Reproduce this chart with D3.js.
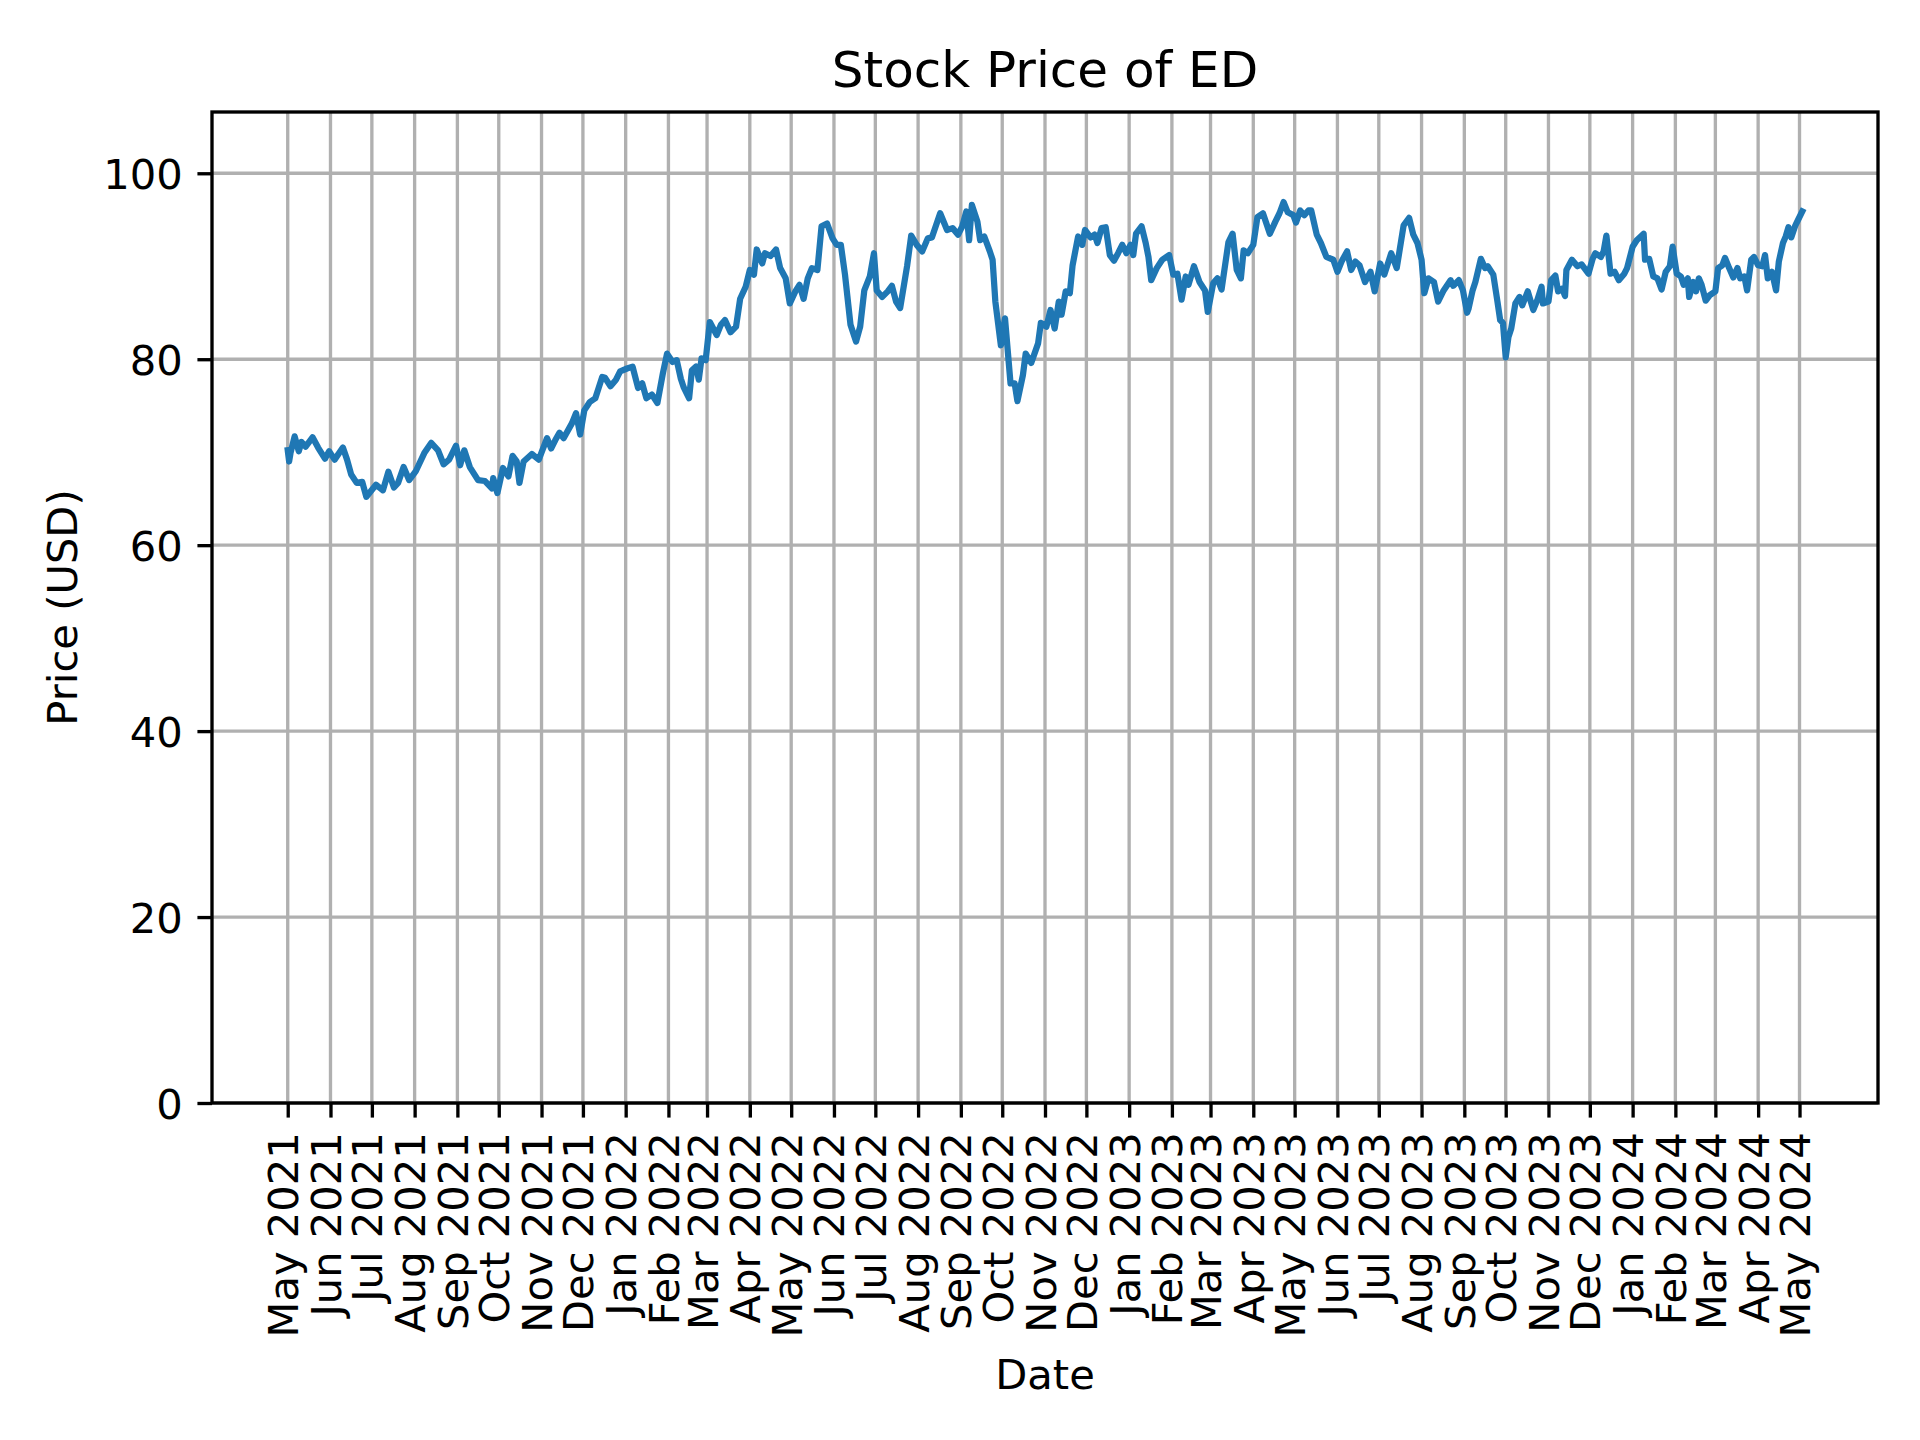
<!DOCTYPE html>
<html lang="en">
<head>
<meta charset="UTF-8">
<title>Stock Price of ED</title>
<script src="https://d3js.org/d3.v7.min.js"></script>
<style>
  body { margin: 0; background: #fff; }
  svg text { font-family: "DejaVu Sans", sans-serif; fill: #000; }
</style>
</head>
<body>
<div id="chart"></div>
<script>
// days counted from startDate, closing price in USD
const startDate = "2021-05-01";
const dayOffsets = [
  0, 1, 2, 5, 8, 10, 13, 18, 22, 27, 30, 34, 40, 43, 46, 50, 54, 57, 64, 69,
  73, 77, 80, 84, 88, 93, 99, 104, 109, 113, 117, 122, 125, 128, 132, 138, 143, 148, 149, 152,
  156, 160, 163, 166, 168, 171, 177, 182, 188, 191, 194, 197, 200, 206, 209, 212, 215, 219, 223, 228,
  230, 234, 238, 241, 246, 250, 254, 257, 260, 264, 268, 272,
  275, 279, 282, 285, 287, 291, 293, 296, 298, 300, 303, 306, 311, 314, 317, 321, 325, 328, 332, 335,
  338, 340, 344, 346, 350, 354, 357, 361, 364, 368, 371, 374, 377, 380, 384, 387, 391, 395, 398, 401,
  404, 408, 412, 415, 418, 422, 425, 427, 431, 435, 438, 441, 444, 449, 452, 456, 460, 464, 467, 473,
  478, 482, 486, 489, 492, 494, 496, 500, 502, 505, 509, 511, 513, 517, 520, 524, 527, 529, 533, 535,
  539, 544, 546, 550, 553,
  556, 559, 561, 564, 567, 569, 573, 576, 578, 582, 585, 587, 590, 593, 596, 599, 602, 605, 608, 611,
  613, 615, 619, 622, 624, 626, 630, 634, 639, 642, 645, 648, 651, 653, 657, 661, 665, 667, 671, 674,
  677, 682, 685, 688, 691, 693, 696, 700, 703, 707, 712, 716, 719, 722, 725, 729, 731, 734, 737, 740,
  742, 746, 749, 753, 758, 761, 764, 768, 771, 774, 777, 781, 785, 788, 792, 795, 800, 804, 809, 813,
  816, 819, 822, 824, 827, 831, 834, 838, 843,
  845, 849, 852, 855, 856, 859, 861, 865, 868, 870, 874, 877, 879, 881, 883, 885, 887, 890, 893, 895,
  899, 903, 906, 909, 910, 914, 916, 919, 921, 924, 926, 927, 931, 935, 938, 943, 946, 948, 952, 954,
  956, 959, 962, 965, 969, 971, 975, 978, 983, 984, 987, 990, 993, 996, 999, 1002, 1004, 1007, 1010, 1012,
  1015, 1016, 1019, 1021, 1023, 1025, 1028, 1031, 1035, 1037, 1040, 1042, 1045, 1048, 1051, 1053, 1056, 1058, 1061, 1063,
  1066, 1069, 1071, 1073, 1076, 1079, 1081, 1084, 1086, 1088, 1090, 1093, 1095, 1098
];
const prices = [
  70.2, 69.0, 69.9, 71.7, 70.1, 71.1, 70.6, 71.6, 70.5, 69.3, 70.1, 69.2, 70.5, 69.2, 67.6, 66.7, 66.8, 65.2, 66.5, 65.9,
  67.9, 66.2, 66.7, 68.4, 67.0, 68.0, 69.9, 71.0, 70.2, 68.7, 69.2, 70.7, 68.6, 70.2, 68.4, 67.0, 66.9, 66.1, 67.2, 65.6,
  68.3, 67.4, 69.6, 69.0, 66.7, 69.0, 69.8, 69.2, 71.5, 70.4, 71.3, 72.1, 71.5, 73.1, 74.2, 71.9, 74.5, 75.4, 75.8, 78.1,
  78.0, 77.1, 77.8, 78.7, 79.0, 79.2, 76.9, 77.4, 75.8, 76.2, 75.3, 78.5,
  80.6, 79.7, 79.9, 77.9, 77.0, 75.8, 78.8, 79.2, 77.8, 80.1, 79.9, 84.0, 82.6, 83.7, 84.2, 82.9, 83.5, 86.5, 87.8, 89.6,
  89.1, 91.8, 90.3, 91.4, 91.1, 91.8, 89.8, 88.7, 86.0, 87.3, 88.0, 86.5, 88.7, 89.8, 89.6, 94.3, 94.6, 93.0, 92.3, 92.3,
  89.1, 83.7, 81.9, 83.5, 87.4, 88.9, 91.4, 87.4, 86.7, 87.3, 87.9, 86.2, 85.5, 90.0, 93.3, 92.3, 91.6, 93.0, 93.1, 95.7,
  93.9, 94.1, 93.4, 94.3, 95.9, 92.8, 96.6, 94.8, 92.8, 93.2, 91.6, 90.7, 86.2, 81.5, 84.4, 77.4, 77.4, 75.5, 78.3, 80.6,
  79.6, 81.7, 83.9, 83.5, 85.3,
  83.3, 86.2, 84.8, 87.3, 87.1, 90.1, 93.2, 92.3, 93.9, 93.1, 93.4, 92.5, 94.1, 94.2, 91.2, 90.6, 91.4, 92.3, 91.4, 92.3,
  91.2, 93.5, 94.3, 92.5, 91.0, 88.5, 89.8, 90.7, 91.2, 89.1, 89.2, 86.4, 88.9, 88.0, 90.0, 88.3, 87.4, 85.1, 88.2, 88.7,
  87.5, 92.6, 93.5, 89.6, 88.7, 91.7, 91.4, 92.3, 95.3, 95.7, 93.5, 94.8, 95.7, 96.9, 95.8, 95.5, 94.7, 96.0, 95.5, 96.0,
  96.0, 93.4, 92.5, 91.0, 90.7, 89.4, 90.5, 91.6, 89.6, 90.5, 90.1, 88.3, 89.4, 87.3, 90.3, 89.1, 91.4, 89.8, 94.4, 95.2,
  93.4, 92.5, 90.7, 87.1, 88.7, 88.3, 86.2, 87.4, 88.5,
  87.9, 88.5, 87.4, 85.0, 85.4, 87.4, 88.3, 90.8, 89.8, 90.0, 89.1, 86.2, 84.2, 83.9, 80.2, 82.4, 83.3, 86.0, 86.7, 85.8,
  87.3, 85.3, 86.4, 87.8, 86.0, 86.2, 88.5, 89.0, 87.3, 87.6, 86.8, 89.6, 90.7, 90.0, 90.2, 89.2, 90.8, 91.4, 91.0, 91.6,
  93.3, 89.2, 89.4, 88.5, 89.2, 89.8, 92.1, 92.8, 93.5, 90.7, 90.8, 88.9, 88.7, 87.5, 89.4, 90.0, 92.1, 89.2, 88.9, 88.0,
  88.7, 86.7, 88.3, 87.3, 88.7, 88.0, 86.3, 86.9, 87.3, 89.8, 90.1, 90.9, 89.8, 88.8, 89.8, 88.7, 88.9, 87.4, 90.7, 91.0,
  90.1, 90.0, 91.2, 88.7, 89.4, 87.4, 90.5, 92.5, 93.2, 94.2, 93.1, 94.4, 95.0, 95.9
];
const priceTicks = [0, 20, 40, 60, 80, 100];

const width = 1920, height = 1440;
const margin = {top: 112, right: 42, bottom: 337, left: 212};
const innerW = width - margin.left - margin.right;
const innerH = height - margin.top - margin.bottom;
const pt = 300 / 72;  // matplotlib points at 300 dpi

const base = d3.timeParse("%Y-%m-%d")(startDate);
const data = dayOffsets.map((d, i) => ({date: d3.timeDay.offset(base, d), price: prices[i]}));

// x: data extent with 5% padding on each side, like matplotlib autoscale
const ext = d3.extent(data, d => d.date);
const pad = (ext[1] - ext[0]) * 0.05;
const x = d3.scaleTime()
  .domain([new Date(+ext[0] - pad), new Date(+ext[1] + pad)])
  .range([0, innerW]);
const y = d3.scaleLinear()
  .domain([0, d3.max(prices) * 1.1])
  .range([innerH, 0]);

const svg = d3.select("#chart").append("svg")
  .attr("width", width)
  .attr("height", height);
svg.append("rect").attr("width", width).attr("height", height).attr("fill", "#fff");

const g = svg.append("g")
  .attr("transform", "translate(" + margin.left + "," + margin.top + ")");

// one tick per month, only inside the span of the data
const months = d3.timeMonth.range(d3.timeMonth.ceil(ext[0]), d3.timeDay.offset(ext[1], 1));

// grid
g.append("g").selectAll("line.vg")
  .data(months)
  .enter().append("line")
  .attr("x1", d => x(d)).attr("x2", d => x(d))
  .attr("y1", 0).attr("y2", innerH)
  .attr("stroke", "#b0b0b0").attr("stroke-width", 0.8 * pt);
g.append("g").selectAll("line.hg")
  .data(priceTicks)
  .enter().append("line")
  .attr("x1", 0).attr("x2", innerW)
  .attr("y1", d => y(d)).attr("y2", d => y(d))
  .attr("stroke", "#b0b0b0").attr("stroke-width", 0.8 * pt);

// price line
const line = d3.line()
  .x(d => x(d.date))
  .y(d => y(d.price));
g.append("path")
  .datum(data)
  .attr("fill", "none")
  .attr("stroke", "#1f77b4")
  .attr("stroke-width", 1.5 * pt)
  .attr("stroke-linejoin", "round")
  .attr("stroke-linecap", "square")
  .attr("d", line);

// x axis
const xAxis = g.append("g")
  .attr("transform", "translate(0," + innerH + ")")
  .call(d3.axisBottom(x)
    .tickValues(months)
    .tickFormat(d3.timeFormat("%b %Y"))
    .tickSizeInner(3.5 * pt)
    .tickSizeOuter(0)
    .tickPadding(3.5 * pt));
xAxis.select(".domain").remove();
xAxis.selectAll(".tick line").attr("stroke", "#000").attr("stroke-width", 0.8 * pt);
xAxis.selectAll(".tick text")
  .attr("font-size", 10 * pt)
  .attr("font-family", "DejaVu Sans")
  .attr("text-anchor", "end")
  .attr("transform", "rotate(-90)")
  .attr("x", -7 * pt)
  .attr("y", 0)
  .attr("dy", "0.24em");

// y axis
const yAxis = g.append("g")
  .call(d3.axisLeft(y)
    .tickValues(priceTicks)
    .tickSizeInner(3.5 * pt)
    .tickSizeOuter(0)
    .tickPadding(3.5 * pt));
yAxis.select(".domain").remove();
yAxis.selectAll(".tick line").attr("stroke", "#000").attr("stroke-width", 0.8 * pt);
yAxis.selectAll(".tick text")
  .attr("font-size", 10 * pt)
  .attr("font-family", "DejaVu Sans")
  .attr("dy", "0.36em");

// spines
g.append("rect")
  .attr("width", innerW)
  .attr("height", innerH)
  .attr("fill", "none")
  .attr("stroke", "#000")
  .attr("stroke-width", 0.8 * pt);

// titles
svg.append("text")
  .attr("x", margin.left + innerW / 2)
  .attr("y", margin.top - 6 * pt)
  .attr("text-anchor", "middle")
  .attr("font-size", 12 * pt)
  .text("Stock Price of ED");

svg.append("text")
  .attr("x", margin.left + innerW / 2)
  .attr("y", 1389)
  .attr("text-anchor", "middle")
  .attr("font-size", 10 * pt)
  .text("Date");

svg.append("text")
  .attr("transform", "translate(77," + (margin.top + innerH / 2) + ") rotate(-90)")
  .attr("text-anchor", "middle")
  .attr("font-size", 10 * pt)
  .text("Price (USD)");
</script>
</body>
</html>
